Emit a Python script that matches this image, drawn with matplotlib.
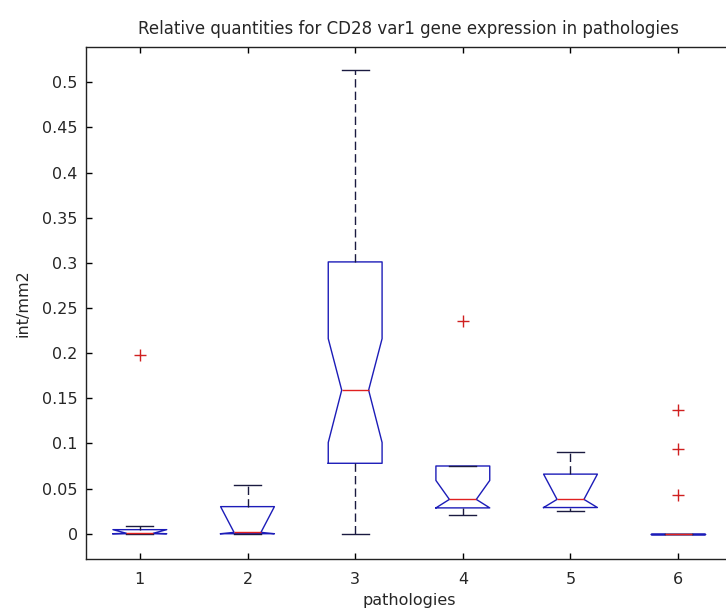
import matplotlib
matplotlib.use("Agg")
import matplotlib.pyplot as plt

plt.rcParams['font.family'] = ['DejaVu Sans']

# Data (notched boxplot statistics)
categories = [1, 2, 3, 4, 5, 6]
q1 = [0.0, 0.0, 0.078, 0.0286, 0.029, 0.0]
med = [0.0005, 0.0015, 0.159, 0.038, 0.038, 0.0]
q3 = [0.0045, 0.030, 0.301, 0.075, 0.066, 0.0]
whislo = [0.0, 0.0, 0.0, 0.021, 0.0256, 0.0]
whishi = [0.008, 0.054, 0.513, 0.075, 0.091, 0.0]
notch_lo = [0.0, 0.0, 0.101, 0.0286, 0.029, 0.0]
notch_hi = [0.0045, 0.030, 0.216, 0.059, 0.066, 0.0]
outliers = [[0.198], [], [], [0.236], [], [0.137, 0.094, 0.043]]
yticks = [0, 0.05, 0.1, 0.15, 0.2, 0.25, 0.3, 0.35, 0.4, 0.45, 0.5]
yticklabels = ['0', '0.05', '0.1', '0.15', '0.2', '0.25', '0.3', '0.35', '0.4', '0.45', '0.5']

stats = []
for i in range(len(categories)):
    stats.append(dict(med=med[i], q1=q1[i], q3=q3[i], whislo=whislo[i],
                      whishi=whishi[i], cilo=notch_lo[i], cihi=notch_hi[i],
                      fliers=outliers[i]))

fig = plt.figure(figsize=(7.26, 6.10), dpi=100)
ax = fig.add_axes([86/726, 51/610, 646/726, 512/610])

text_color = '#262626'
box_color = '#1c1cb8'
ax.bxp(stats, positions=categories, widths=0.5, shownotches=True,
       boxprops=dict(color=box_color, linewidth=1.0),
       medianprops=dict(color='#e02020', linewidth=1.0),
       whiskerprops=dict(color='#1a1a40', linewidth=1.0, linestyle=(0, (6, 3))),
       capprops=dict(color='#1a1a40', linewidth=1.0),
       flierprops=dict(marker='+', markeredgecolor='#d02020', markersize=8.5,
                       markeredgewidth=1.0, linestyle='none'),
       manage_ticks=False)

ax.set_xlim(0.5, 6.5)
ax.set_ylim(-0.028, 0.539)
ax.set_xticks(categories)
ax.set_xticklabels([str(c) for c in categories])
ax.set_yticks(yticks)
ax.set_yticklabels(yticklabels)
ax.tick_params(direction='in', top=True, right=True, length=4, width=1,
               labelsize=11.5, labelcolor=text_color)
ax.tick_params(axis='x', pad=9)
ax.tick_params(axis='y', pad=6)
for s in ax.spines.values():
    s.set_linewidth(1.0)
    s.set_color('#222222')

ax.set_title('Relative quantities for CD28 var1 gene expression in pathologies',
             fontsize=12, pad=9, color=text_color)
ax.set_xlabel('pathologies', fontsize=11.5, labelpad=5, color=text_color)
ax.set_ylabel('int/mm2', fontsize=11.5, labelpad=8, color=text_color)

fig.savefig('out.png', dpi=100, facecolor='white')
